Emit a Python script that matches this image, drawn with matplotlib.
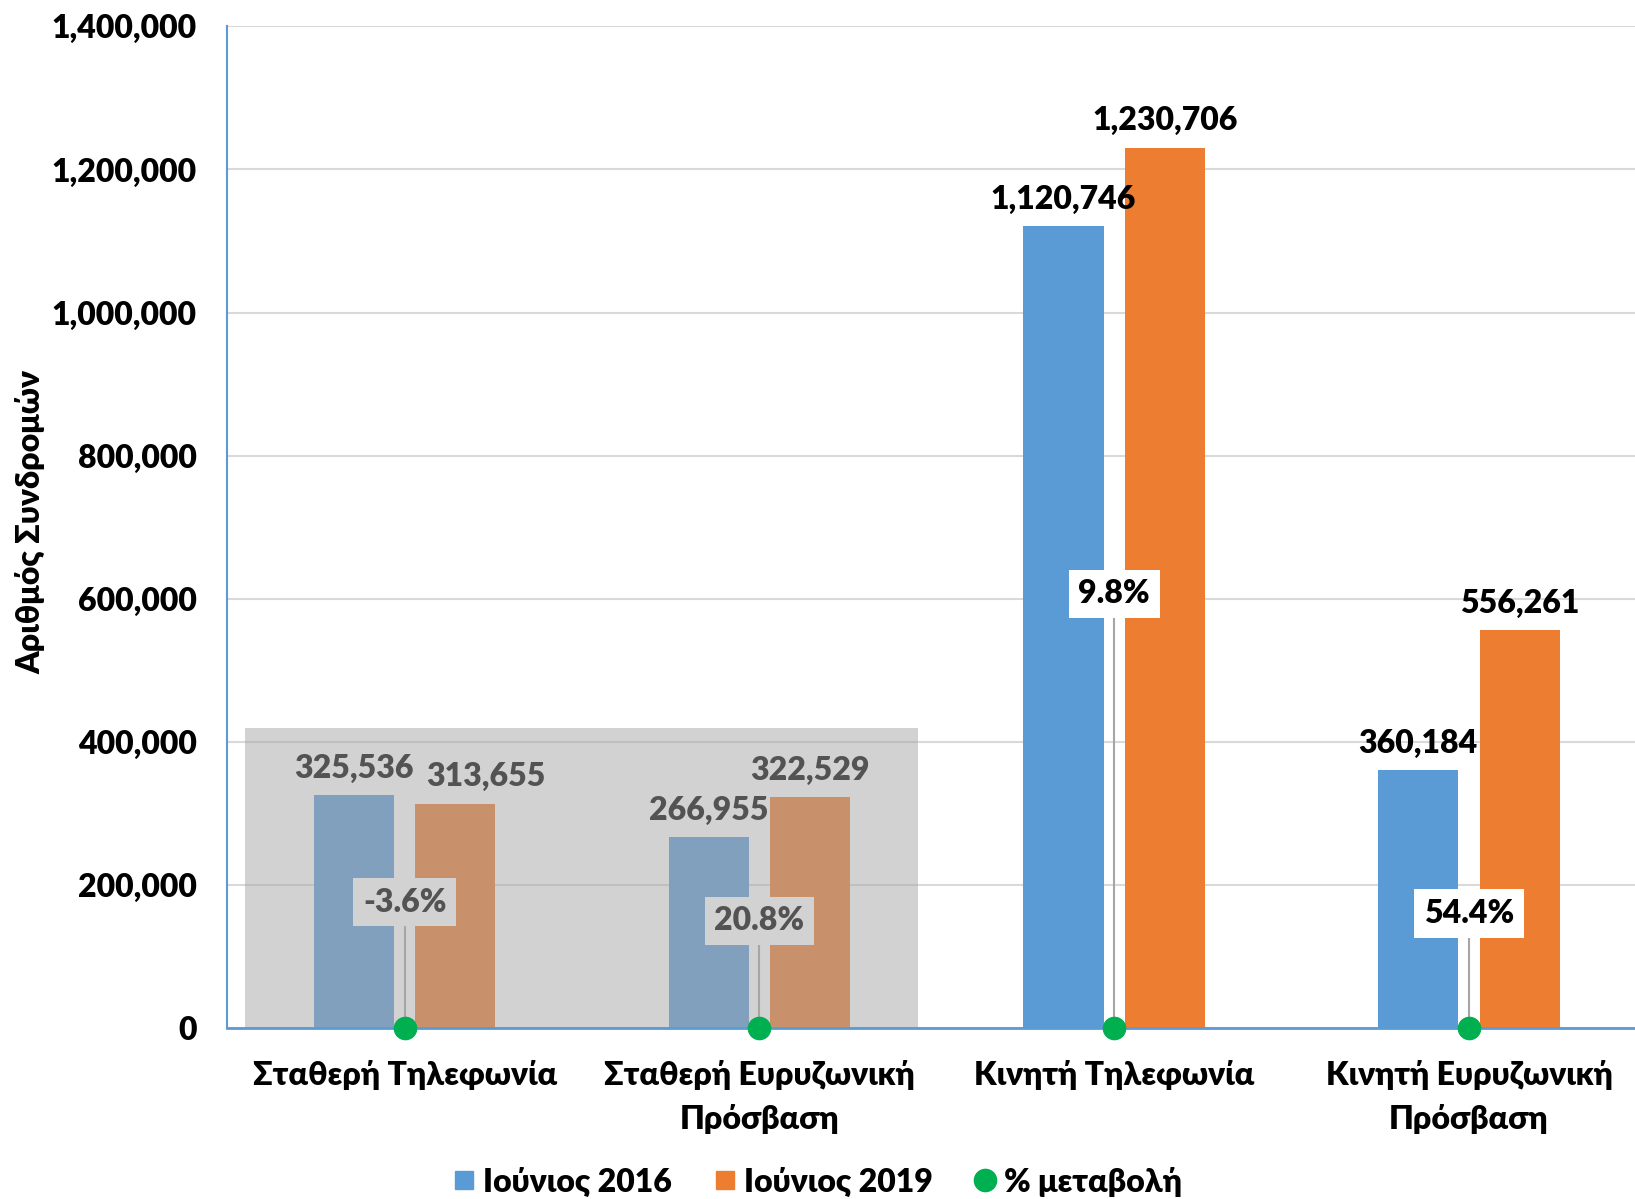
import matplotlib
matplotlib.use("Agg")
import matplotlib.pyplot as plt
from matplotlib.patches import Rectangle
from matplotlib.lines import Line2D
from matplotlib.ticker import FuncFormatter, MultipleLocator

categories = ["Σταθερή Τηλεφωνία", "Σταθερή Ευρυζωνική\nΠρόσβαση",
              "Κινητή Τηλεφωνία", "Κινητή Ευρυζωνική\nΠρόσβαση"]
series_2016 = [325536, 266955, 1120746, 360184]
series_2019 = [313655, 322529, 1230706, 556261]
pct_change = ["-3.6%", "20.8%", "9.8%", "54.4%"]
pct_label_y = [176000, 150000, 607000, 160000]
legend_labels = ["Ιούνιος 2016", "Ιούνιος 2019", "% μεταβολή"]
ylabel = "Αριθμός Συνδρομών"

BLUE = "#5B9BD5"
ORANGE = "#ED7D31"
GREEN = "#00B050"
FONT = ["Lato", "DejaVu Sans"]
W = "heavy"
plt.rcParams["font.family"] = FONT
plt.rcParams["font.weight"] = W

fig = plt.figure(figsize=(16.35, 11.99), dpi=100)
ax = fig.add_axes([0.139, 0.1426, 0.868, 0.8354])

x = list(range(len(categories)))
w = 0.226
off = 0.143
ax.bar([i - off for i in x], series_2016, width=w, color=BLUE, zorder=2)
ax.bar([i + off for i in x], series_2019, width=w, color=ORANGE, zorder=2)

# small horizontal nudges (points) for crowded value labels
dx_2019 = [22, 0, 0, 0]

fs = 23
for i in x:
    ax.annotate(f"{series_2016[i]:,}", (i - off, series_2016[i]), xytext=(0, 9),
                textcoords="offset points", ha="center", va="bottom",
                fontsize=fs, fontweight=W, color="black", zorder=4)
    ax.annotate(f"{series_2019[i]:,}", (i + off, series_2019[i]), xytext=(dx_2019[i], 9),
                textcoords="offset points", ha="center", va="bottom",
                fontsize=fs, fontweight=W, color="black", zorder=4)
    ax.plot([i, i], [0, pct_label_y[i]], color="#A6A6A6", lw=1.5, zorder=3)
    ax.text(i, pct_label_y[i], pct_change[i], ha="center", va="center",
            fontsize=fs, fontweight=W, color="black", zorder=4,
            bbox=dict(boxstyle="square,pad=0.3", fc="white", ec="none"))

ax.add_patch(Rectangle((-0.45, 0), 1.897, 419600, facecolor="#A6A6A6",
                       alpha=0.5, edgecolor="none", zorder=5))

ax.plot(x, [0] * len(x), "o", color=GREEN, markersize=16, clip_on=False, zorder=6)

ax.set_xlim(-0.5, 3.5)
ax.set_ylim(0, 1400000)
ax.yaxis.set_major_locator(MultipleLocator(200000))
ax.yaxis.set_major_formatter(FuncFormatter(lambda v, p: f"{int(v):,}"))
ax.grid(axis="y", color="#D9D9D9", lw=1.5, zorder=0)
ax.set_axisbelow(True)
for s in ["top", "right"]:
    ax.spines[s].set_visible(False)
ax.spines["left"].set_color(BLUE)
ax.spines["bottom"].set_color(BLUE)
ax.spines["left"].set_linewidth(1.5)
ax.spines["bottom"].set_linewidth(2)
ax.spines["bottom"].set_zorder(5.5)

ax.set_xticks(x)
ax.set_xticklabels(categories, fontsize=fs, fontweight=W, linespacing=1.55)
ax.tick_params(axis="x", length=0, pad=23)
ax.tick_params(axis="y", length=0, pad=22, labelsize=fs)
for t in ax.get_yticklabels():
    t.set_fontweight(W)

ax.set_ylabel(ylabel, fontsize=fs, fontweight=W)
ax.yaxis.set_label_coords(-0.128, 0.505)

handles = [
    Line2D([], [], marker="s", ls="none", color=BLUE, markersize=13),
    Line2D([], [], marker="s", ls="none", color=ORANGE, markersize=13),
    Line2D([], [], marker="o", ls="none", color=GREEN, markersize=16),
]
fig.legend(handles, legend_labels, loc="lower center", bbox_to_anchor=(0.5, -0.022),
           ncol=3, frameon=False, prop={"family": FONT, "weight": W, "size": fs},
           handlelength=0.7, handletextpad=0.25, columnspacing=1.3)

fig.savefig("out.png", dpi=100)
